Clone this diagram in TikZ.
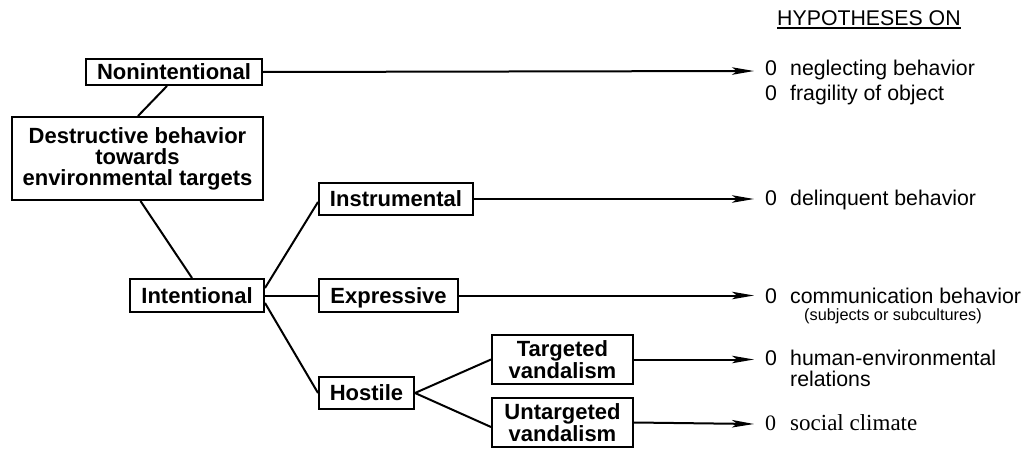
\documentclass[tikz,border=0pt]{standalone}
\usepackage{fontspec}
\setmainfont{Liberation Sans}
\newfontfamily\serifc{Liberation Serif}
\usetikzlibrary{arrows.meta}
\tikzset{
  box/.style={draw, line width=2pt, inner sep=0pt, align=center,
    font=\bfseries\fontsize{22}{21}\selectfont},
  one/.style={text height=15.8pt, text depth=0pt},
  link/.style={line width=2pt},
  arr/.style={line width=2pt, -{Stealth[length=22pt,width=7.5pt,inset=5pt]}},
  txt/.style={anchor=base west, inner sep=0pt, font=\fontsize{21.3}{22}\selectfont},
  small/.style={anchor=base west, inner sep=0pt, font=\fontsize{16.3}{18}\selectfont},
}
\begin{document}
\begin{tikzpicture}[x=1pt,y=-1pt]
\useasboundingbox (0,0) rectangle (1031,455);
% boxes
\node[box, one, minimum width=176pt, minimum height=26pt] (non) at (174,72) {Nonintentional};
\node[box, minimum width=251pt, minimum height=83pt] (dest) at (137.5,158.5) {Destructive behavior\\towards\\environmental targets};
\node[box, one, minimum width=134pt, minimum height=33pt] (inten) at (197,295.5) {Intentional};
\node[box, one, minimum width=154pt, minimum height=32pt] (instr) at (396,199) {Instrumental};
\node[box, one, minimum width=139pt, minimum height=33pt] (expr) at (388.5,295.5) {Expressive};
\node[box, one, minimum width=95pt, minimum height=32pt] (host) at (366.5,393) {Hostile};
\node[box, minimum width=141pt, minimum height=49pt, font=\bfseries\fontsize{22}{20}\selectfont] (targ) at (562.5,359.5) {Targeted\\vandalism};
\node[box, minimum width=141pt, minimum height=49pt, font=\bfseries\fontsize{22}{20}\selectfont] (untarg) at (562.5,422.5) {Untargeted\\vandalism};
% tree links
\draw[link] ([xshift=-7pt]non.south) -- ([xshift=0.5pt]dest.north);
\draw[link] ([xshift=3pt]dest.south) -- ([xshift=-5pt]inten.north);
\draw[link] ([yshift=7.5pt]inten.east) -- ([yshift=-3pt]instr.west);
\draw[link] (inten.east) -- (expr.west);
\draw[link] ([yshift=-7.5pt]inten.east) -- (host.west);
\draw[link] (host.east) -- (targ.west);
\draw[link] (host.east) -- ([yshift=-4.5pt]untarg.west);
% arrow end points
\coordinate (e1) at (754,71);
\coordinate (e2) at (754,199);
\coordinate (e3) at (754,295.5);
\coordinate (e4) at (754,359.5);
\coordinate (e5) at (754,424);
\draw[arr] (non.east) -- (e1);
\draw[arr] (instr.east) -- (e2);
\draw[arr] (expr.east) -- (e3);
\draw[arr] (targ.east) -- (e4);
\draw[arr] (untarg.east) -- (e5);
% hypotheses
\node[txt] (hyp) at (777,25) {HYPOTHESES ON};
\draw[line width=1.4pt] ([yshift=-3pt]hyp.base west) -- ([yshift=-3pt]hyp.base east);
\node[txt] (z1) at (765,75) {0};
\node[txt] (t1) at (790,75) {neglecting behavior};
\node[txt] (z2) at (765,100) {0};
\node[txt] (t2) at (790,100) {fragility of object};
\node[txt] (z3) at (765,205) {0};
\node[txt] (t3) at (790,205) {delinquent behavior};
\node[txt] (z4) at (765,303) {0};
\node[txt] (t4) at (790,303) {communication behavior};
\node[small] (t4b) at (804,320) {(subjects or subcultures)};
\node[txt] (z5) at (765,365) {0};
\node[txt] (t5) at (790,365) {human-environmental};
\node[txt] (t5b) at (790,386) {relations};
\node[anchor=base west, inner sep=0pt, font=\serifc\fontsize{22}{24}\selectfont] (z6) at (765,430) {0};
\node[anchor=base west, inner sep=0pt, font=\serifc\fontsize{23}{24}\selectfont] (t6) at (790,430) {social climate};
\end{tikzpicture}
\end{document}
